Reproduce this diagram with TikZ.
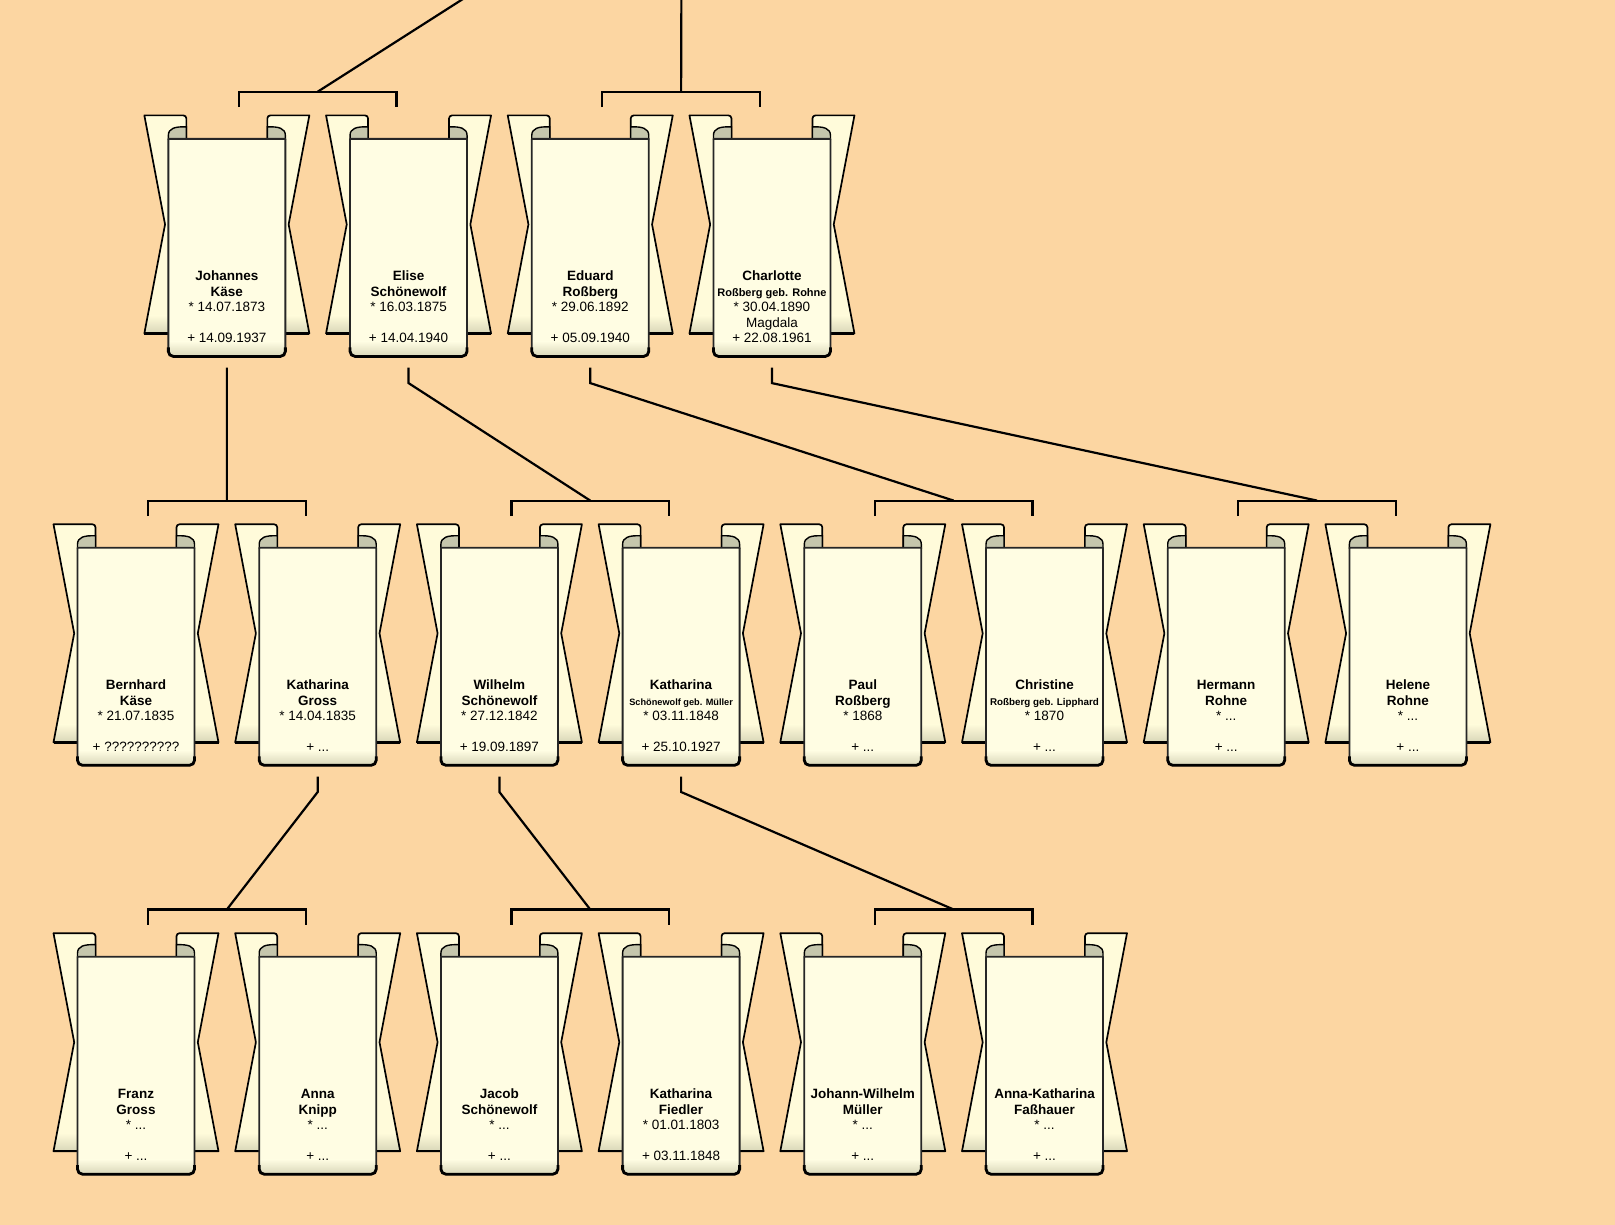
\documentclass[tikz,border=0pt]{standalone}
\usepackage{fontspec}
\setmainfont{Liberation Sans}
\usetikzlibrary{calc}
\definecolor{bg}{HTML}{FCD6A2}
\definecolor{cream}{HTML}{FFFDE3}
\definecolor{flapc}{HTML}{FFFBDA}
\definecolor{curlc}{HTML}{C5C6AC}
\definecolor{shadec}{HTML}{D6D4B6}
\tikzset{
  outl/.style={draw=black,line width=1.7pt,line join=round},
  poutl/.style={draw=black!85,line width=1.8pt,line join=round},
  conn/.style={draw=black,line width=2.2pt},
  nm/.style={anchor=base,inner sep=0pt,font=\fontsize{13.5}{15}\selectfont\bfseries},
  dt/.style={anchor=base,inner sep=0pt,font=\fontsize{13.5}{15}\selectfont},
  panelnode/.style={draw=none,inner sep=0pt,outer sep=0pt,minimum width=117pt,minimum height=217.5pt},
}
\newcommand\subA[1]{{\fontsize{11}{13}\selectfont #1}}
\newcommand\subB[1]{{\fontsize{9.8}{12}\selectfont #1}}
\newcommand\subC[1]{{\fontsize{9.2}{11}\selectfont #1}}
\newcommand\flaphalf{%
  \begin{scope}
    \clip (-82.5,0) -- (-43.5,0) arc[start angle=90,end angle=0,radius=3] -- (-40.5,-30) -- (-50,-218) -- (-82.5,-218) -- (-61.8,-109) -- cycle;
    \fill[flapc] (-90,5) rectangle (-35,-225);
    \shade[top color=flapc,bottom color=shadec] (-90,-200) rectangle (-35,-219);
  \end{scope}
  \draw[outl] (-82.5,0) -- (-43.5,0) arc[start angle=90,end angle=0,radius=3] -- (-40.5,-30) -- (-50,-218) -- (-82.5,-218) -- (-61.8,-109) -- cycle;
  \draw[line width=2.4pt] (-82.5,-218) -- (-56,-218);
  \filldraw[fill=curlc,draw=black,line width=1.4pt] (-40.5,-11.5) .. controls (-52,-11) and (-58.5,-13) .. (-58.5,-20) -- (-58.5,-23.5) -- (-40.5,-23.5) -- cycle;
}
% #1 name, #2 centre x, #3 top y, #4-#8 text lines
\newcommand\scrollbox[8]{%
  \begin{scope}[shift={(#2,-#3)}]
    \flaphalf
    \begin{scope}[xscale=-1]\flaphalf\end{scope}
    \begin{scope}
      \clip[rounded corners=5] (-58.5,-100) -- (-58.5,-241) -- (58.5,-241) -- (58.5,-100) [sharp corners] -- (58.5,-23.5) -- (-58.5,-23.5) -- cycle;
      \fill[cream] (-60,-20) rectangle (60,-245);
      \shade[top color=cream,bottom color=shadec] (-60,-226) rectangle (60,-242);
    \end{scope}
    \draw[poutl,rounded corners=5] (-58.5,-100) -- (-58.5,-241) -- (58.5,-241) -- (58.5,-100) [sharp corners] -- (58.5,-23.5) -- (-58.5,-23.5) -- cycle;
    \draw[line width=2.8pt,rounded corners=5] (-58.5,-232) -- (-58.5,-241) -- (58.5,-241) -- (58.5,-232);
    \node[panelnode] (#1) at (0,-132.25) {};
    \node[nm] (#1-1) at (0,-165.4) {#4};
    \node[nm] (#1-2) at (0,-180.9) {#5};
    \node[dt] (#1-3) at (0,-196.3) {#6};
    \if\relax\detokenize{#7}\relax\else\node[dt] (#1-4) at (0,-211.8) {#7};\fi
    \node[dt] (#1-5) at (0,-227.2) {#8};
  \end{scope}}
% couple bracket: #1 name, #2 husband, #3 wife
\newcommand\couple[3]{%
  \draw[conn] ([xshift=12pt,yshift=31.8pt]#2.north) -- ([xshift=12pt,yshift=47.2pt]#2.north) -- ([xshift=-12pt,yshift=47.2pt]#3.north) -- ([xshift=-12pt,yshift=31.8pt]#3.north);
  \coordinate (#1) at ($(#2.north)!0.5!(#3.north)+(0,47.2)$);}
% child to parents: #1 child, #2 couple
\newcommand\descend[2]{%
  \draw[conn,line join=miter] ([yshift=-11.3pt]#1.south) -- ([yshift=-26.7pt]#1.south) -- (#2);}
\begin{document}
\begin{tikzpicture}[x=1pt,y=1pt]
\fill[bg] (0,0) rectangle (1615,-1225);
\useasboundingbox (0,0) rectangle (1615,-1225);
% row 1
\scrollbox{jk}{226.85}{115.4}{Johannes}{Käse}{* 14.07.1873}{}{+ 14.09.1937}
\scrollbox{es}{408.55}{115.4}{Elise}{Schönewolf}{* 16.03.1875}{}{+ 14.04.1940}
\scrollbox{er}{590.25}{115.4}{Eduard}{Roßberg}{* 29.06.1892}{}{+ 05.09.1940}
\scrollbox{cr}{771.95}{115.4}{Charlotte}{\subA{Roßberg geb. Rohne}}{* 30.04.1890}{Magdala}{+ 22.08.1961}
% row 2
\scrollbox{bk}{136}{524.3}{Bernhard}{Käse}{* 21.07.1835}{}{+ ??????????}
\scrollbox{kg}{317.7}{524.3}{Katharina}{Gross}{* 14.04.1835}{}{+ ...}
\scrollbox{ws}{499.4}{524.3}{Wilhelm}{Schönewolf}{* 27.12.1842}{}{+ 19.09.1897}
\scrollbox{km}{681.1}{524.3}{Katharina}{\subC{Schönewolf geb. Müller}}{* 03.11.1848}{}{+ 25.10.1927}
\scrollbox{pr}{862.8}{524.3}{Paul}{Roßberg}{* 1868}{}{+ ...}
\scrollbox{cl}{1044.5}{524.3}{Christine}{\subB{Roßberg geb. Lipphard}}{* 1870}{}{+ ...}
\scrollbox{hr}{1226.2}{524.3}{Hermann}{Rohne}{* ...}{}{+ ...}
\scrollbox{hl}{1407.9}{524.3}{Helene}{Rohne}{* ...}{}{+ ...}
% row 3
\scrollbox{fg}{136}{933.2}{Franz}{Gross}{* ...}{}{+ ...}
\scrollbox{ak}{317.7}{933.2}{Anna}{Knipp}{* ...}{}{+ ...}
\scrollbox{js}{499.4}{933.2}{Jacob}{Schönewolf}{* ...}{}{+ ...}
\scrollbox{kf}{681.1}{933.2}{Katharina}{Fiedler}{* 01.01.1803}{}{+ 03.11.1848}
\scrollbox{jm}{862.8}{933.2}{Johann-Wilhelm}{Müller}{* ...}{}{+ ...}
\scrollbox{af}{1044.5}{933.2}{Anna-Katharina}{Faßhauer}{* ...}{}{+ ...}
% couples
\couple{c1a}{jk}{es}
\couple{c1b}{er}{cr}
\couple{c2a}{bk}{kg}
\couple{c2b}{ws}{km}
\couple{c2c}{pr}{cl}
\couple{c2d}{hr}{hl}
\couple{c3a}{fg}{ak}
\couple{c3b}{js}{kf}
\couple{c3c}{jm}{af}
% lines leaving the top edge
\coordinate (up1) at (469.2,5);
\coordinate (up2) at (681.4,5);
\draw[conn] (c1a) -- (up1);
\draw[conn] (c1b) -- (up2);
% descent lines
\descend{jk}{c2a}
\descend{es}{c2b}
\descend{er}{c2c}
\descend{cr}{c2d}
\descend{kg}{c3a}
\descend{ws}{c3b}
\descend{km}{c3c}
\end{tikzpicture}
\end{document}
